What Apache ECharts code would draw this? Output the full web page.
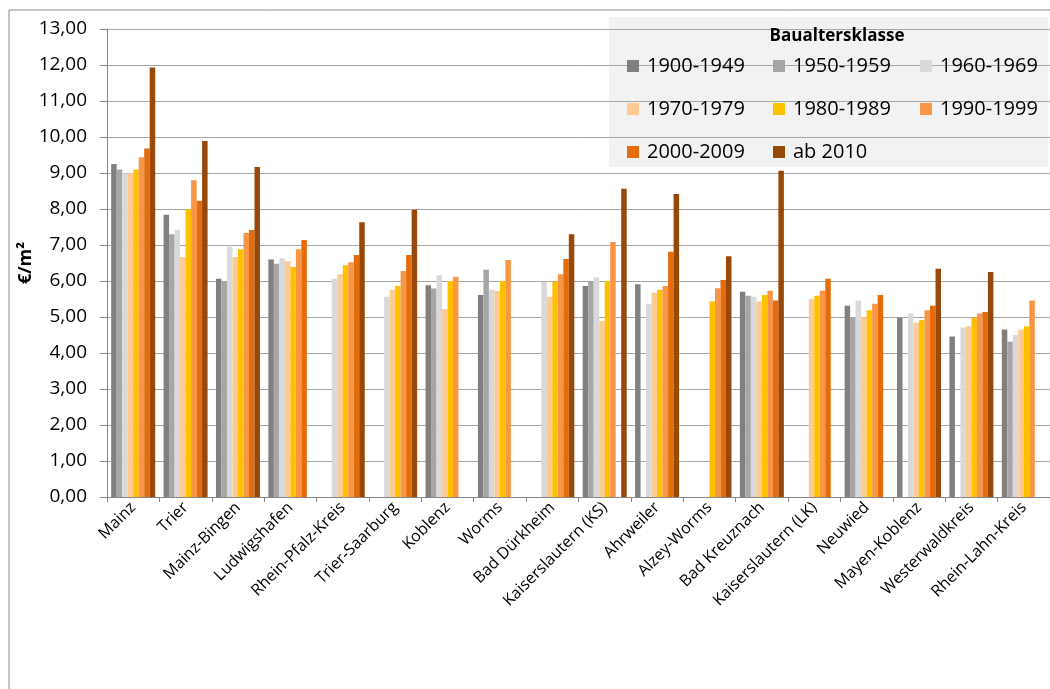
<!DOCTYPE html>
<html>
<head>
<meta charset="utf-8">
<script src="https://cdn.jsdelivr.net/npm/echarts@6/dist/echarts.min.js"></script>
<style>
  html, body { margin: 0; padding: 0; background: #fff; }
  #chart { width: 1050px; height: 689px; }
</style>
</head>
<body>
<div id="chart"></div>
<script>
// Kreise / Städte
const categories = ['Mainz', 'Trier', 'Mainz-Bingen', 'Ludwigshafen', 'Rhein-Pfalz-Kreis', 'Trier-Saarburg',
  'Koblenz', 'Worms', 'Bad Dürkheim', 'Kaiserslautern (KS)', 'Ahrweiler', 'Alzey-Worms', 'Bad Kreuznach',
  'Kaiserslautern (LK)', 'Neuwied', 'Mayen-Koblenz', 'Westerwaldkreis', 'Rhein-Lahn-Kreis']

// €/m² je Baualtersklasse (null = kein Wert)
const v1900 = [9.25, 7.84, 6.06, 6.60, null, null, 5.88, 5.61, null, 5.86, 5.91, null, 5.70, null, 5.31, 4.98, 4.46, 4.65]
const v1950 = [9.10, 7.30, 5.99, 6.48, null, null, 5.79, 6.31, null, 6.00, null, null, 5.59, null, 5.00, null, null, 4.31]
const v1960 = [8.99, 7.42, 6.95, 6.63, 6.06, 5.56, 6.16, 5.76, 5.98, 6.10, 5.37, null, 5.56, null, 5.46, 5.10, 4.71, 4.50]
const v1970 = [8.99, 6.67, 6.67, 6.55, 6.19, 5.76, 5.22, 5.72, 5.56, 4.89, 5.67, null, 5.43, 5.49, 5.00, 4.84, 4.74, 4.65]
const v1980 = [9.10, 7.99, 6.88, 6.39, 6.44, 5.86, 6.00, 6.00, 5.98, 6.00, 5.76, 5.43, 5.61, 5.59, 5.19, 4.92, 4.98, 4.74]
const v1990 = [9.44, 8.80, 7.33, 6.88, 6.52, 6.28, 6.12, 6.58, 6.19, 7.08, 5.86, 5.80, 5.73, 5.73, 5.37, 5.19, 5.10, 5.46]
const v2000 = [9.68, 8.23, 7.42, 7.14, 6.72, 6.72, null, null, 6.61, null, 6.81, 6.03, 5.46, 6.06, 5.61, 5.31, 5.14, null]
const v2010 = [11.93, 9.89, 9.17, null, 7.63, 7.98, null, null, 7.30, 8.56, 8.42, 6.69, 9.06, null, null, 6.34, 6.25, null]

const seriesNames = ['1900-1949', '1950-1959', '1960-1969', '1970-1979', '1980-1989', '1990-1999', '2000-2009', 'ab 2010']
const seriesData = [v1900, v1950, v1960, v1970, v1980, v1990, v2000, v2010]
const colors = ['#808080', '#a6a6a6', '#d9d9d9', '#fdca93', '#ffc000', '#f79646', '#e46c0a', '#984807']

const font = 'Open Sans'

let mychart = echarts.init(document.getElementById('chart'), null, { renderer: 'canvas' })

const legendCommon = {
  orient: 'vertical',
  itemWidth: 12,
  itemHeight: 12,
  itemGap: 23,
  icon: 'rect',
  selectedMode: false,
  textStyle: { fontFamily: font, fontSize: 20, color: '#000', lineHeight: 20, padding: [0, 0, 0, 3] }
}

mychart.setOption({
  animation: false,
  color: colors,
  graphic: [
    // Rahmen
    { type: 'rect', z: -10, shape: { x: 9, y: 10, width: 1100, height: 720 },
      style: { fill: '#fff', stroke: '#8c8c8c', lineWidth: 1 } },
    // Legendenhintergrund
    { type: 'rect', z: -5, shape: { x: 609, y: 17, width: 439, height: 150 },
      style: { fill: '#f2f2f2' } },
    { type: 'text', z: 10, x: 837, y: 36,
      style: { text: 'Baualtersklasse', fontFamily: font, fontWeight: 'bold', fontSize: 17,
        fill: '#000', align: 'center', verticalAlign: 'middle' } }
  ],
  legend: [
    Object.assign({ left: 622, top: 51, data: ['1900-1949', '1970-1979', '2000-2009'] }, legendCommon),
    Object.assign({ left: 768, top: 51, data: ['1950-1959', '1980-1989', 'ab 2010'] }, legendCommon),
    Object.assign({ left: 915, top: 51, data: ['1960-1969', '1990-1999'] }, legendCommon)
  ],
  grid: {
    left: 107,
    right: 0,
    top: 29,
    bottom: 192,
    containLabel: false
  },
  xAxis: {
    type: 'category',
    data: categories,
    axisLine: { lineStyle: { color: '#868686', width: 1 } },
    axisTick: { show: true, length: 5, lineStyle: { color: '#868686' } },
    axisLabel: { rotate: 45, interval: 0, fontFamily: font, fontSize: 16, color: '#000', margin: 8 },
    splitLine: { show: false }
  },
  yAxis: {
    type: 'value',
    min: 0,
    max: 13,
    interval: 1,
    name: '€/m²',
    nameLocation: 'middle',
    nameGap: 72,
    nameMoveOverlap: false,
    nameRotate: 90,
    nameTextStyle: { fontFamily: font, fontSize: 18, fontWeight: 'bold', color: '#000' },
    axisLine: { show: true, lineStyle: { color: '#868686', width: 1 } },
    axisTick: { show: true, inside: false, length: 7, lineStyle: { color: '#868686' } },
    axisLabel: {
      fontFamily: font, fontSize: 19, color: '#000', margin: 20,
      formatter: v => v.toFixed(2).replace('.', ',')
    },
    splitLine: { lineStyle: { color: '#a6a6a6', width: 1 } }
  },
  series: seriesNames.map((name, i) => ({
    name: name,
    type: 'bar',
    data: seriesData[i],
    barGap: '0%',
    barCategoryGap: '16%',
    itemStyle: { color: colors[i] }
  }))
})
</script>
</body>
</html>
